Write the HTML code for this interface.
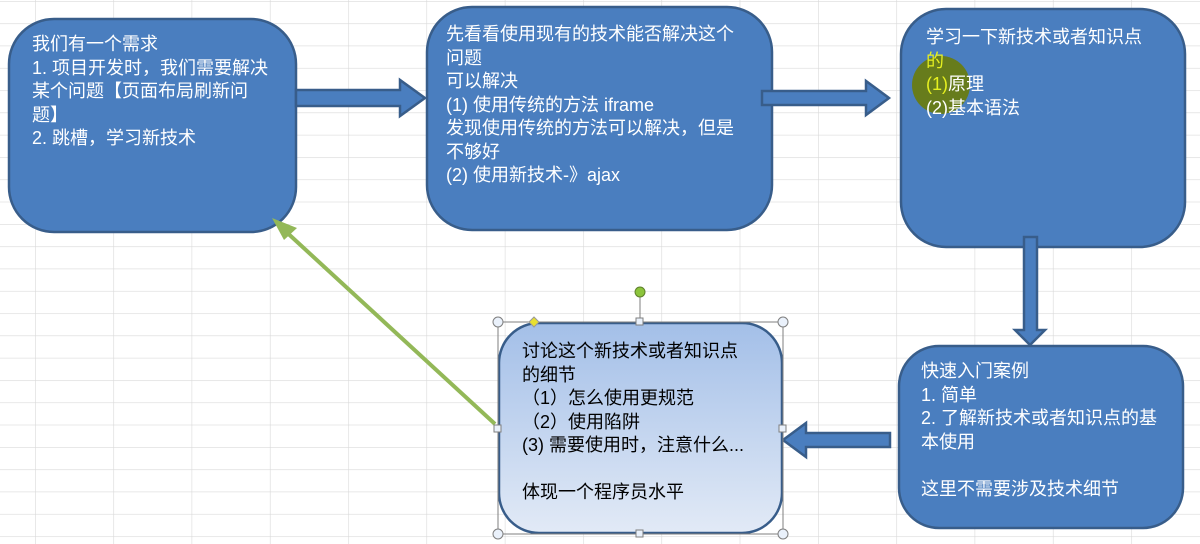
<!DOCTYPE html>
<html><head><meta charset="utf-8"><style>
body{margin:0;width:1200px;height:544px;overflow:hidden;background:#fff;position:relative;font-family:"Liberation Sans","Noto Sans CJK SC",sans-serif}
svg{position:absolute;left:0;top:0}
.t{position:absolute;font-size:18px;line-height:23.5px;color:#fff;white-space:nowrap}
</style></head><body>
<svg width="1200" height="544">
<defs>
<pattern id="g" width="78.3" height="22.3" patternUnits="userSpaceOnUse" x="35" y="1">
<path d="M0 0V22.3M0 0H78.3" stroke="#d9d9d9" stroke-width="1.2" fill="none"/>
</pattern>
<linearGradient id="lg" x1="0" y1="0" x2="0" y2="1"><stop offset="0" stop-color="#a3bfe8"/><stop offset="1" stop-color="#e2eaf6"/></linearGradient>
</defs>
<rect width="1200" height="544" fill="url(#g)"/>
<g fill="#4a7ebf" stroke="#385d8a" stroke-width="2.5">
<rect x="9" y="19" width="287" height="213" rx="45"/>
<rect x="427" y="7" width="345" height="223" rx="45"/>
<rect x="901" y="9" width="284" height="238" rx="45"/>
<rect x="899" y="346" width="284" height="182" rx="40"/>
<path d="M296 90H400V80L425 98L400 116V106H296Z"/>
<path d="M762 91H866V81L889 98L866 115V105H762Z"/>
<path d="M1024 237H1037V330H1045L1030 345L1015 330H1024Z"/>
<path d="M890 433V447H806V457L783 440L806 423V433Z"/>
</g>
<rect x="499" y="323" width="283" height="210" rx="40" fill="url(#lg)" stroke="#385d8a" stroke-width="2.5"/>
<line x1="495" y1="424" x2="282" y2="228" stroke="#93b858" stroke-width="4"/>
<path d="M272 218L297 228L284 240Z" fill="#93b858"/>
<circle cx="941" cy="85" r="29" fill="#6a7c0a" opacity="0.9"/>
<g stroke="#7f7f7f" stroke-width="1" fill="none">
<rect x="498" y="322" width="285" height="212"/>
<line x1="640" y1="292" x2="640" y2="322"/>
</g>
<circle cx="640" cy="292" r="5" fill="#8cc43c" stroke="#5d7f2a"/>
<g fill="#eaf1fb" stroke="#7f7f7f">
<circle cx="498" cy="322" r="5"/><circle cx="783" cy="322" r="5"/><circle cx="498" cy="534" r="5"/><circle cx="783" cy="534" r="5"/>
<rect x="636" y="318" width="7" height="7"/><rect x="636" y="530" width="7" height="7"/><rect x="494" y="425" width="7" height="7"/><rect x="779" y="425" width="7" height="7"/>
</g>
<path d="M534 317L539 322L534 327L529 322Z" fill="#e8e030" stroke="#999"/>
</svg>
<div class="t" style="left:32px;top:33px">我们有一个需求<br>1. 项目开发时，我们需要解决<br>某个问题【页面布局刷新问<br>题】<br>2. 跳槽，学习新技术</div>
<div class="t" style="left:446px;top:23px">先看看使用现有的技术能否解决这个<br>问题<br>可以解决<br>(1) 使用传统的方法 iframe<br>发现使用传统的方法可以解决，但是<br>不够好<br>(2) 使用新技术-》ajax</div>
<div class="t" style="left:926px;top:26px">学习一下新技术或者知识点<br><span style="color:#e6f020">的<br>(1)</span>原理<br>(2)基本语法</div>
<div class="t" style="left:921px;top:360px">快速入门案例<br>1. 简单<br>2. 了解新技术或者知识点的基<br>本使用<br><br>这里不需要涉及技术细节</div>
<div class="t" style="left:522px;top:340px;color:#000">讨论这个新技术或者知识点<br>的细节<br>（1）怎么使用更规范<br>（2）使用陷阱<br>(3) 需要使用时，注意什么...<br><br>体现一个程序员水平</div>
</body></html>
